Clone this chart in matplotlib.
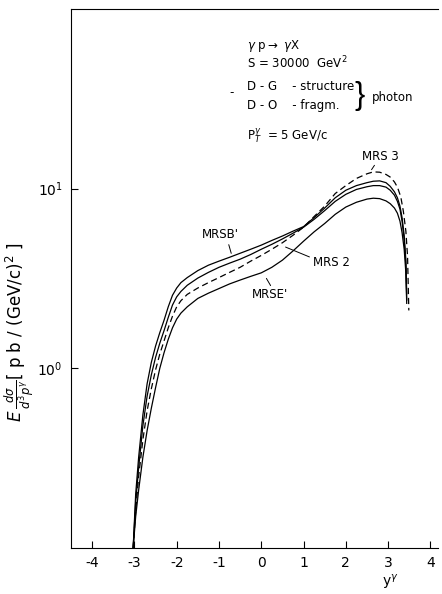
import matplotlib.pyplot as plt

# rapidity y^gamma and E d(sigma)/d^3p in pb/(GeV/c)^2
x_b = [-3.03, -2.97, -2.9, -2.8, -2.7, -2.6, -2.5, -2.4, -2.3, -2.2, -2.1, -2.0, -1.9, -1.75, -1.5, -1.25, -1.0, -0.75, -0.5, -0.25,
       0.0, 0.25, 0.5, 0.75, 1.0, 1.25, 1.5, 1.75, 2.0, 2.25, 2.5, 2.65, 2.8, 2.95, 3.05, 3.15, 3.22, 3.28, 3.33, 3.38, 3.42, 3.44]
mrsb = [0.1, 0.2, 0.32, 0.55, 0.82, 1.08, 1.33, 1.58, 1.85, 2.2, 2.55, 2.8, 3.0, 3.2, 3.5, 3.75, 3.95, 4.15, 4.37, 4.6,
        4.85, 5.15, 5.45, 5.8, 6.15, 6.9, 7.8, 8.9, 9.8, 10.4, 10.8, 11.0, 11.05, 10.8, 10.3, 9.6, 8.9, 8.0, 6.9, 5.5, 4.0, 2.6]

x_2 = [-3.03, -2.97, -2.9, -2.8, -2.7, -2.6, -2.5, -2.4, -2.3, -2.2, -2.1, -2.0, -1.9, -1.75, -1.5, -1.25, -1.0, -0.75, -0.5, -0.25,
       0.0, 0.25, 0.5, 0.75, 1.0, 1.25, 1.5, 1.75, 2.0, 2.25, 2.5, 2.65, 2.8, 2.95, 3.05, 3.15, 3.22, 3.28, 3.33, 3.38, 3.42, 3.44]
mrs2 = [0.1, 0.18, 0.28, 0.48, 0.7, 0.92, 1.15, 1.38, 1.62, 1.92, 2.25, 2.5, 2.68, 2.9, 3.18, 3.42, 3.65, 3.85, 4.05, 4.3,
        4.6, 4.9, 5.25, 5.65, 6.1, 6.75, 7.55, 8.5, 9.3, 9.9, 10.25, 10.4, 10.4, 10.2, 9.8, 9.2, 8.5, 7.7, 6.6, 5.2, 3.8, 2.4]

x_3 = [-3.03, -2.97, -2.9, -2.8, -2.7, -2.6, -2.5, -2.4, -2.3, -2.2, -2.1, -2.0, -1.9, -1.75, -1.5, -1.25, -1.0, -0.75, -0.5, -0.25,
       0.0, 0.25, 0.5, 0.75, 1.0, 1.25, 1.5, 1.75, 2.0, 2.25, 2.5, 2.65, 2.8, 2.95, 3.05, 3.15, 3.22, 3.3, 3.36, 3.42, 3.46, 3.49]
mrs3 = [0.1, 0.16, 0.25, 0.4, 0.58, 0.77, 0.98, 1.2, 1.42, 1.68, 1.95, 2.2, 2.38, 2.58, 2.8, 3.0, 3.2, 3.42, 3.65, 3.95,
        4.25, 4.6, 5.0, 5.5, 6.1, 7.0, 8.0, 9.4, 10.4, 11.4, 12.1, 12.4, 12.35, 12.0, 11.6, 10.9, 10.2, 9.0, 7.5, 5.8, 4.2, 2.1]

x_e = [-3.03, -2.97, -2.9, -2.8, -2.7, -2.6, -2.5, -2.4, -2.3, -2.2, -2.1, -2.0, -1.9, -1.75, -1.5, -1.25, -1.0, -0.75, -0.5, -0.25,
       0.0, 0.25, 0.5, 0.75, 1.0, 1.25, 1.5, 1.75, 2.0, 2.25, 2.5, 2.65, 2.8, 2.95, 3.05, 3.15, 3.22, 3.28, 3.33, 3.38, 3.42, 3.44]
mrse = [0.1, 0.15, 0.21, 0.32, 0.45, 0.6, 0.78, 1.0, 1.22, 1.45, 1.68, 1.88, 2.03, 2.2, 2.45, 2.62, 2.78, 2.95, 3.1, 3.25,
        3.4, 3.65, 4.0, 4.5, 5.1, 5.75, 6.4, 7.2, 7.9, 8.4, 8.75, 8.85, 8.8, 8.55, 8.25, 7.8, 7.3, 6.6, 5.7, 4.6, 3.4, 2.3]

xticks = [-4, -3, -2, -1, 0, 1, 2, 3, 4]
xticklabels = ["-4", "-3", "-2", "-1", "0", "1", "2", "3", "4"]

fig = plt.figure(figsize=(4.42, 5.94), dpi=100)
ax = fig.add_axes([71 / 442, 46 / 594, 367 / 442, 539 / 594])

lw = 0.9
ax.plot(x_b, mrsb, color="black", lw=lw)
ax.plot(x_2, mrs2, color="black", lw=lw)
ax.plot(x_3, mrs3, color="black", lw=lw, ls=(0, (5, 3)))
ax.plot(x_e, mrse, color="black", lw=lw)

ax.set_yscale("log")
ax.set_xlim(-4.5, 4.18)
ax.set_ylim(0.1, 100)
ax.spines["right"].set_visible(False)
ax.set_xticks(xticks)
ax.set_xticklabels(xticklabels, fontsize=10)
ax.set_yticks([1, 10])
ax.set_yticklabels([r"$10^0$", r"$10^1$"], fontsize=10)
ax.minorticks_off()
ax.tick_params(direction="in", length=5, width=0.8, pad=6)

# y label, placed like the original (lower than axis centre)
fig.text(19 / 442, 1 - 332 / 594, r"$E\,\frac{d\sigma}{d^3p^{\gamma}}$[ p b / (GeV/c)$^2$ ]",
         fontsize=12, rotation=90, ha="center", va="center")
fig.text(390 / 442, 1 - 582 / 594, r"y$^\gamma$", fontsize=10, ha="center", va="center")

# annotations (figure pixel coordinates)
def ftext(px, py, s, size=8.5, **kw):
    fig.text(px / 442, 1 - py / 594, s, fontsize=size, va="center", **kw)

ftext(247, 46, r"$\gamma$ p$\rightarrow$ $\gamma$X")
ftext(247, 63, r"S = 30000  GeV$^2$")
ftext(247, 86, "D - G    - structure")
ftext(247, 106, "D - O    - fragm.")
ftext(229, 93, "-")
ftext(354, 96, "}", size=22, family="Liberation Sans")
ftext(372, 97, "photon")
ftext(247, 136, r"P$_T^{\gamma}$  = 5 GeV/c")

ftext(362, 156, "MRS 3")
ftext(202, 234, "MRSB'")
ftext(313, 262, "MRS 2")
ftext(252, 295, "MRSE'")

def leader(p0, p1):
    ax.annotate("", xy=p1, xycoords="figure pixels", xytext=p0, textcoords="figure pixels",
                arrowprops=dict(arrowstyle="-", lw=0.7, color="black"))

H = 594
leader((376, H - 163), (370, H - 172))
leader((228, H - 242), (232, H - 256))
leader((312, H - 258), (283, H - 246))
leader((272, H - 288), (265, H - 276))

fig.savefig("out.png", dpi=100)
